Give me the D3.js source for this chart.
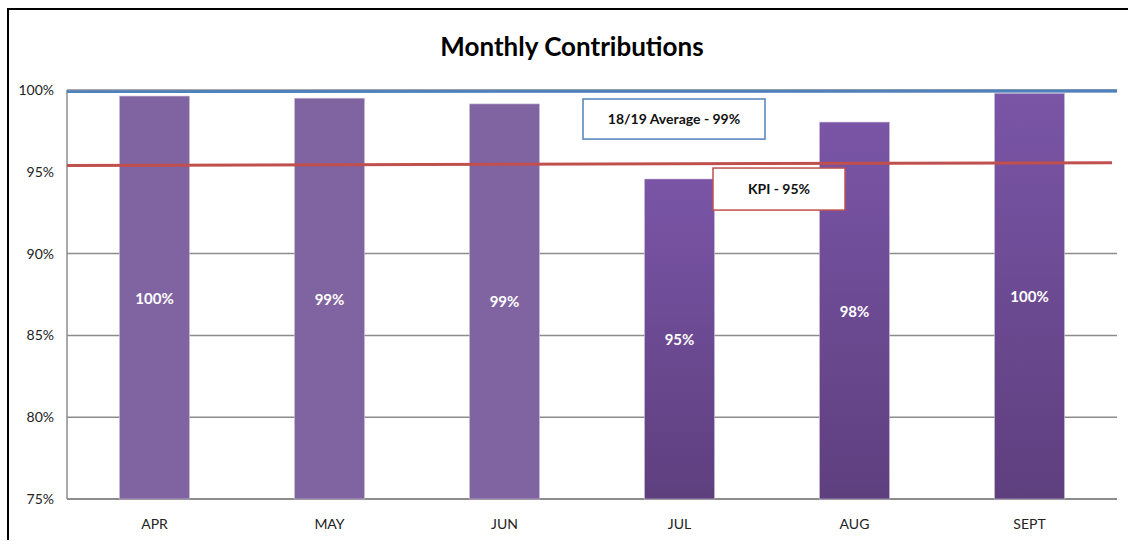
<!DOCTYPE html>
<head>
    <meta charset="utf-8">
    <script src="https://d3js.org/d3.v7.min.js"></script>
    <style type="text/css">
        body { margin: 0; background: #fff; }
        text { font-family: Lato, "Open Sans", sans-serif; }
    </style>
</head>
<body>

<script type="text/javascript">
    //data
    var months = ["APR", "MAY", "JUN", "JUL", "AUG", "SEPT"],
        values = [99.63, 99.5, 99.15, 94.56, 98.04, 99.8],
        labels = ["100%", "99%", "99%", "95%", "98%", "100%"],
        shaded = [false, false, false, true, true, true],
        yTicks = [75, 80, 85, 90, 95, 100],
        avgLine = [99.9, 99.94],   // blue line, left -> right
        kpiLine = [95.39, 95.56],  // red line, left -> right
        notes = [
            {"text": "18/19 Average - 99%", "month": "JUL", "top": 99.45, "bottom": 97.0, "color": "#4f81bd"},
            {"text": "KPI - 95%", "month": "AUG", "top": 95.23, "bottom": 92.66, "color": "#c0504d"}
        ];
</script>

<script type="text/javascript">
    var w = 1128,
        h = 544;

    var svg = d3.select("body").append("svg")
        .attr("width", w)
        .attr("height", h);

    var defs = svg.append("defs");
    var grad = defs.append("linearGradient").attr("id", "barGrad")
        .attr("x1", 0).attr("y1", 0).attr("x2", 0).attr("y2", 1);
    grad.append("stop").attr("offset", "0%").attr("stop-color", "#7a55a7");
    grad.append("stop").attr("offset", "100%").attr("stop-color", "#5e3f7e");

    var shadow = defs.append("filter").attr("id", "shadow")
        .attr("x", "-5%").attr("y", "-200%").attr("width", "110%").attr("height", "500%");
    shadow.append("feDropShadow").attr("dx", 0).attr("dy", 2.5)
        .attr("stdDeviation", 1.2).attr("flood-color", "#000").attr("flood-opacity", 0.35);

    // frame (top + left only)
    svg.append("path")
        .attr("d", "M8,540 L8,9 L1128,9")
        .attr("fill", "none").attr("stroke", "#000").attr("stroke-width", 2);

    // scales
    var x = d3.scaleBand().domain(months).range([67, 1117])
        .paddingInner(0.6).paddingOuter(0.3);
    var y = d3.scaleLinear().domain([75, 100]).range([499, 90]);

    // title
    svg.append("text")
        .attr("x", 572).attr("y", 56)
        .attr("text-anchor", "middle")
        .style("font-size", "26px").style("font-weight", "bold")
        .attr("fill", "#000")
        .text("Monthly Contributions");

    // gridlines
    svg.append("g").selectAll("line").data(yTicks.slice(1)).enter().append("line")
        .attr("x1", 67).attr("x2", 1117)
        .attr("y1", function(d) { return y(d); })
        .attr("y2", function(d) { return y(d); })
        .attr("stroke", function(d) { return d === 95 ? "#7a7a7a" : "#8c8c8c"; })
        .attr("stroke-width", function(d) { return d === 95 ? 2 : 1.5; })
        .attr("filter", function(d) { return d === 95 ? "url(#shadow)" : null; });

    // axis lines
    svg.append("line").attr("x1", 67).attr("x2", 67).attr("y1", y(100)).attr("y2", y(75))
        .attr("stroke", "#8c8c8c").attr("stroke-width", 1.5);
    svg.append("line").attr("x1", 67).attr("x2", 1117).attr("y1", y(75)).attr("y2", y(75))
        .attr("stroke", "#8c8c8c").attr("stroke-width", 2);

    // y tick labels
    svg.append("g").selectAll("text").data(yTicks).enter().append("text")
        .attr("x", 54)
        .attr("y", function(d) { return y(d) + 5; })
        .attr("text-anchor", "end")
        .style("font-size", "14px")
        .attr("fill", "#222")
        .text(function(d) { return d + "%"; });

    // bars
    svg.append("g").selectAll("rect").data(values).enter().append("rect")
        .attr("x", function(d, i) { return x(months[i]); })
        .attr("y", function(d) { return y(d); })
        .attr("width", x.bandwidth())
        .attr("height", function(d) { return y(75) - y(d); })
        .attr("fill", function(d, i) { return shaded[i] ? "url(#barGrad)" : "#8064a2"; })
        .attr("stroke", "#c9c0d6").attr("stroke-width", 0.6);

    // value labels
    svg.append("g").selectAll("text").data(values).enter().append("text")
        .attr("x", function(d, i) { return x(months[i]) + x.bandwidth() / 2; })
        .attr("y", function(d) { return (y(d) + y(75)) / 2 + 6; })
        .attr("text-anchor", "middle")
        .style("font-size", "15px").style("font-weight", "bold")
        .attr("fill", "#fff")
        .text(function(d, i) { return labels[i]; });

    // category labels
    svg.append("g").selectAll("text").data(months).enter().append("text")
        .attr("x", function(d) { return x(d) + x.bandwidth() / 2; })
        .attr("y", 529)
        .attr("text-anchor", "middle")
        .style("font-size", "14px")
        .attr("fill", "#222")
        .text(function(d) { return d; });

    // reference lines
    svg.append("line")
        .attr("x1", 67).attr("x2", 1117)
        .attr("y1", y(avgLine[0])).attr("y2", y(avgLine[1]))
        .attr("stroke", "#4f81bd").attr("stroke-width", 3)
        .attr("filter", "url(#shadow)");
    svg.append("line")
        .attr("x1", 67).attr("x2", 1112)
        .attr("y1", y(kpiLine[0])).attr("y2", y(kpiLine[1]))
        .attr("stroke", "#c0504d").attr("stroke-width", 3);

    // annotation boxes
    var boxW = [182, 132],
        boxDx = [-61.5, -106.5];
    var note = svg.append("g").selectAll("g").data(notes).enter().append("g");
    note.append("rect")
        .attr("x", function(d, i) { return x(d.month) + boxDx[i]; })
        .attr("y", function(d) { return y(d.top); })
        .attr("width", function(d, i) { return boxW[i]; })
        .attr("height", function(d) { return y(d.bottom) - y(d.top); })
        .attr("fill", "#fff")
        .attr("stroke", function(d) { return d.color; })
        .attr("stroke-width", 1.5);
    note.append("text")
        .attr("x", function(d, i) { return x(d.month) + boxDx[i] + boxW[i] / 2; })
        .attr("y", function(d) { return (y(d.top) + y(d.bottom)) / 2 + 5; })
        .attr("text-anchor", "middle")
        .style("font-size", "14px").style("font-weight", "bold")
        .attr("fill", "#111")
        .text(function(d) { return d.text; });
</script>
</body>
</html>
